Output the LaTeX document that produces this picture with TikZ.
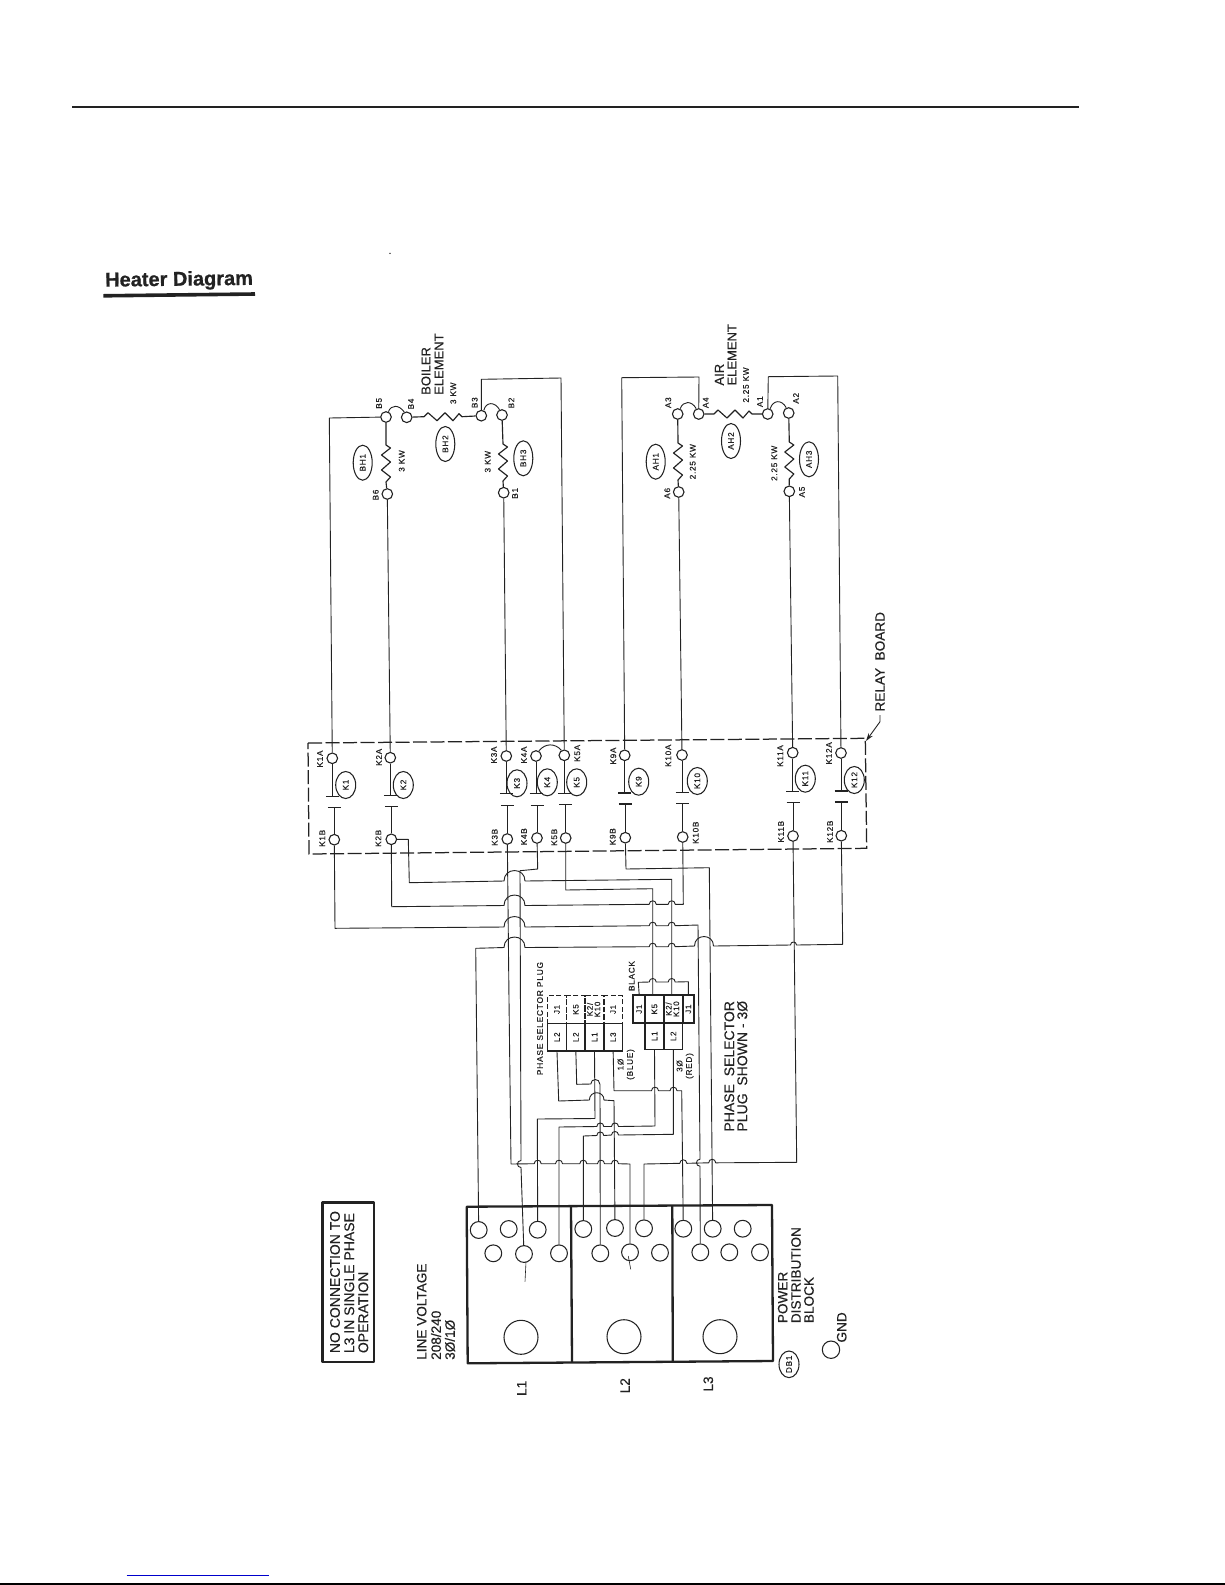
\documentclass[tikz,border=0pt]{standalone}
\usepackage{fontspec}
\usepackage{graphicx}
\setmainfont[FakeBold=0.25]{Liberation Sans}
\newfontfamily\spf[LetterSpace=9,FakeBold=0.35]{Liberation Sans}
\newfontfamily\titlef[BoldFeatures={FakeBold=0.7}]{Liberation Sans}
\usetikzlibrary{shapes.geometric,arrows.meta}
\definecolor{ink}{HTML}{222222}
\tikzset{
  wire/.style={draw=ink,line width=0.9pt,line join=round},
  zig/.style={draw=ink,line width=1.15pt,line join=round},
  term/.style={circle,draw=ink,line width=1.1pt,minimum size=10.6pt,inner sep=0pt},
  hole/.style={circle,draw=ink,line width=1.05pt,minimum size=16.8pt,inner sep=0pt},
  lug/.style={circle,draw=ink,line width=1.05pt,minimum size=34pt,inner sep=0pt},
  lab/.style={rotate=90,inner sep=0pt,text=ink,font=\spf\fontsize{8.2}{9.4}\selectfont},
  big/.style={rotate=90,anchor=west,inner sep=0pt,text=ink,font=\fontsize{13.6}{15}\selectfont},
  tagh/.style={ellipse,draw=ink,line width=1.05pt,rotate=90,minimum width=35pt,minimum height=19pt,inner sep=0pt,text=ink,font=\spf\fontsize{8.2}{9}\selectfont},
  tagk/.style={ellipse,draw=ink,line width=1.05pt,rotate=90,minimum width=27pt,minimum height=20pt,inner sep=0pt,text=ink,font=\spf\fontsize{8.2}{9}\selectfont},
  cell/.style={rectangle,draw=ink,inner sep=0pt,text=ink,font=\spf\fontsize{8}{8}\selectfont},
  cellL/.style={cell,line width=1.5pt},
  cellD/.style={cell,line width=1.1pt,dash pattern=on 5pt off 2.5pt},
  cellR/.style={cell,line width=1.7pt},
  bara/.style={draw=ink,line width=1.5pt},
  barb/.style={draw=ink,line width=1.05pt},
  frame/.style={draw=ink,line width=2.3pt,line join=round}
}
% row hop over a vertical wire, and vertical hop round a row
\newcommand\rh[3]{-- (#1-#3,#2) .. controls (#1-#3,#2-1.33*#3) and (#1+#3,#2-1.33*#3) .. (#1+#3,#2)}
\newcommand\vh[3]{-- (#1,#2-#3) .. controls (#1-1.33*#3,#2-#3) and (#1-1.33*#3,#2+#3) .. (#1,#2+#3)}
\newcommand\vzig[2]{-- (#1,#2) -- (#1+4.5,#2+3) -- (#1-4.5,#2+10) -- (#1+4.5,#2+17) -- (#1-4.5,#2+25) -- (#1+4.5,#2+32) -- (#1,#2+37)}
\newcommand\hzig[2]{-- (#1,#2) -- (#1+4,#2-4) -- (#1+13,#2+4) -- (#1+21,#2-4) -- (#1+29,#2+4) -- (#1+35,#2-3) -- (#1+38,#2)}
\newcommand\terminal[5]{\node[term] (#1) at (#2,#3) {}; \node[lab] (#1lab) at (#4,#5) {#1};}
% contact pair: name, upper bar y, lower bar y
\newcommand\contact[3]{%
  \coordinate (#1u) at (#1A |- 0,#2);
  \coordinate (#1l) at (#1B |- 0,#3);
  \draw[wire] (#1A) -- (#1u);
  \draw[wire] (#1B) -- (#1l);
  \draw[bara] ([xshift=-6.5pt]#1u) -- ([xshift=6.5pt]#1u);
  \draw[barb] ([xshift=-6.5pt]#1l) -- ([xshift=6.5pt]#1l);}
\begin{document}
\begin{tikzpicture}[x=1pt,y=-1pt]
\useasboundingbox[fill=white] (0,0) rectangle (1225,1585);

% page furniture
\coordinate (ruleL) at (72.3,106.7);
\coordinate (ruleR) at (1079,106.7);
\draw[ink,line width=2.1pt] (ruleL) -- (ruleR);
\node[rotate=0.7,anchor=west,inner sep=0pt,text=ink,font=\titlef\bfseries\fontsize{20}{22}\selectfont] (title) at (105,281.5) {Heater Diagram};
\coordinate (ulL) at (103.3,295.8);
\coordinate (ulR) at (255,294);
\draw[ink,line width=3.6pt] (ulL) -- (ulR);
\fill[ink] (390,253.3) circle (0.8pt);
\coordinate (blueL) at (126.7,1575);
\coordinate (blueR) at (269,1575);
\draw[blue!80!black,line width=1pt] (blueL) -- (blueR);
\coordinate (footL) at (0,1584);
\coordinate (footR) at (1225,1584);
\draw[black,line width=1.4pt] (footL) -- (footR);

% heater terminals
\terminal{B5}{386}{417}{379}{403.3}
\terminal{B4}{406.7}{417.3}{411}{404}
\terminal{B3}{481.3}{415.7}{474.7}{402.7}
\terminal{B2}{502}{415}{511.3}{403}
\terminal{B6}{387.3}{494}{375.7}{495}
\terminal{B1}{503.7}{492.7}{515}{493.3}
\terminal{A3}{677.7}{414}{668.3}{402.7}
\terminal{A4}{698.7}{414}{705.7}{402.7}
\terminal{A1}{767.7}{414}{760}{401.7}
\terminal{A2}{788.7}{413}{796}{398.3}
\terminal{A6}{678.7}{492}{667.3}{493.3}
\terminal{A5}{789.3}{491.3}{802}{492}

% heater resistors
\draw[zig] (B5) \vzig{386}{445} -- (B6);
\draw[zig] (B2) \vzig{503}{444} -- (B1);
\draw[zig] (B4) \hzig{424}{416.7} -- (B3);
\draw[zig] (A3) \vzig{678}{443} -- (A6);
\draw[zig] (A2) \vzig{789.3}{442} -- (A5);
\draw[zig] (A4) \hzig{714}{414} -- (A1);

% jumpers
\draw[wire] (B5.65) .. controls (391,404.5) and (399,404.5) .. (B4.115);
\draw[wire] (B3.65) .. controls (486,401.5) and (495,401.5) .. (B2.115);
\draw[wire] (A3.65) .. controls (683,400.5) and (692,400.5) .. (A4.115);
\draw[wire] (A1.65) .. controls (773,399.5) and (782,399.5) .. (A2.115);

% heater tags and text
\node[tagh] (BH1) at (362.7,462.7) {BH1};
\node[tagh] (BH2) at (445.3,444) {BH2};
\node[tagh] (BH3) at (523.3,458.3) {BH3};
\node[tagh] (AH1) at (655.7,461.7) {AH1};
\node[tagh] (AH2) at (731,441) {AH2};
\node[tagh] (AH3) at (809,459.3) {AH3};
\node[big,font=\fontsize{13}{15}\selectfont] (boilerA) at (426,395) {BOILER};
\node[big,font=\fontsize{13}{15}\selectfont] (boilerB) at (439,395) {ELEMENT};
\node[big,font=\fontsize{13}{15}\selectfont] (airA) at (719.3,385.7) {AIR};
\node[big,font=\fontsize{13}{15}\selectfont] (airB) at (732,385.7) {ELEMENT};
\node[lab] (kwa) at (453.3,393.3) {3 KW};
\node[lab] (kwb) at (401.7,461) {3 KW};
\node[lab] (kwc) at (487.7,461.7) {3 KW};
\node[lab] (kwd) at (746,385) {2.25 KW};
\node[lab] (kwe) at (692.7,461.7) {2.25 KW};
\node[lab] (kwf) at (774.3,463.3) {2.25 KW};

% relay board
\terminal{K1A}{332.3}{758.3}{320}{759}
\terminal{K2A}{390.3}{757.7}{379}{757.3}
\terminal{K3A}{506.3}{756}{494}{755}
\terminal{K4A}{536}{756}{524}{755}
\terminal{K5A}{564.3}{755.3}{577.3}{753.3}
\terminal{K9A}{624.7}{755.3}{613.3}{756}
\terminal{K10A}{682}{755}{668.3}{755.7}
\terminal{K11A}{792.7}{752.7}{780.3}{756}
\terminal{K12A}{841}{753}{829}{753.3}
\terminal{K1B}{334.3}{839.7}{322.3}{838.3}
\terminal{K2B}{391.3}{839.3}{378.3}{838.3}
\terminal{K3B}{507.3}{839}{494.7}{837.3}
\terminal{K4B}{537}{838}{524}{836.7}
\terminal{K5B}{565.7}{838}{554.3}{837.3}
\terminal{K9B}{625.3}{837.7}{612.7}{836.7}
\terminal{K10B}{682.7}{837}{695.7}{832.7}
\terminal{K11B}{793}{836}{781}{831.7}
\terminal{K12B}{841.3}{835.7}{830}{831.7}

\contact{K1}{796.7}{807.3}
\contact{K2}{795.7}{806.7}
\contact{K3}{793.7}{805.3}
\contact{K4}{793.7}{805.3}
\contact{K5}{793.3}{804.7}
\contact{K9}{793}{804}
\contact{K10}{792.7}{803.7}
\contact{K11}{791.7}{802.7}
\contact{K12}{791}{802}

\node[tagk] (K1) at (345.7,785) {K1};
\node[tagk] (K2) at (403.3,785) {K2};
\node[tagk] (K3) at (517,783.3) {K3};
\node[tagk] (K4) at (547.3,782.3) {K4};
\node[tagk] (K5) at (576.7,782.3) {K5};
\node[tagk] (K9) at (638.7,781.7) {K9};
\node[tagk] (K10) at (697.3,781) {K10};
\node[tagk] (K11) at (805.3,778.7) {K11};
\node[tagk] (K12) at (854.3,780) {K12};

\draw[wire] (K4A.60) .. controls (545,743) and (555,743) .. (K5A.120);

\coordinate (rbA) at (308,743);
\coordinate (rbB) at (865.3,738.3);
\coordinate (rbC) at (866.7,848.3);
\coordinate (rbD) at (309,854);
\draw[draw=ink,line width=1.25pt,dash pattern=on 14pt off 3.5pt] (rbA) -- (rbB) -- (rbC) -- (rbD) -- cycle;
\node[big] (relaytxt) at (880,711.7) {RELAY~~BOARD};
\coordinate (ldA) at (880,715);
\coordinate (ldB) at (880,721.7);
\coordinate (ldC) at (866,741);
\draw[ink,line width=0.9pt,-{Stealth[length=8pt,width=5pt]}] (ldA) -- (ldB) -- (ldC);

% top wires
\draw[wire] (K1A) -- (329.3,418) -- (B5);
\draw[wire] (K2A) -- (B6);
\draw[wire] (K3A) -- (B1);
\draw[wire] (K5A) -- (561,378) -- (481.3,379.3) -- (B3);
\draw[wire] (K9A) -- (621.7,377.7) -- (699,377) -- (A4);
\draw[wire] (K10A) -- (A6);
\draw[wire] (K11A) -- (A5);
\draw[wire] (K12A) -- (837.7,376) -- (768.3,376.7) -- (A1);

% distribution block
\coordinate (dbA) at (466.7,1206.7);
\coordinate (dbB) at (772,1205);
\coordinate (dbC) at (773,1361);
\coordinate (dbD) at (467.7,1363.3);
\draw[frame] (dbA) -- (dbB) -- (dbC) -- (dbD) -- cycle;
\coordinate (diva) at (571,1206);
\coordinate (divb) at (572,1362.5);
\coordinate (divc) at (672.3,1205.5);
\coordinate (divd) at (672.8,1361.5);
\draw[frame] (diva) -- (divb);
\draw[frame] (divc) -- (divd);

\node[hole] (Lat1) at (478.7,1230) {};
\node[hole] (Lat2) at (508.7,1229) {};
\node[hole] (Lat3) at (537.7,1229.7) {};
\node[hole] (Lab1) at (493.3,1253.3) {};
\node[hole] (Lab2) at (524,1254) {};
\node[hole] (Lab3) at (559,1253.3) {};
\node[lug] (Lag) at (521,1337.3) {};
\node[hole] (Lbt1) at (583.3,1229) {};
\node[hole] (Lbt2) at (615,1228) {};
\node[hole] (Lbt3) at (644,1228.3) {};
\node[hole] (Lbb1) at (600.3,1253.3) {};
\node[hole] (Lbb2) at (630,1252.3) {};
\node[hole] (Lbb3) at (660,1252.7) {};
\node[lug] (Lbg) at (624,1336.7) {};
\node[hole] (Lct1) at (683.3,1228.7) {};
\node[hole] (Lct2) at (712.7,1228.7) {};
\node[hole] (Lct3) at (742.7,1228.7) {};
\node[hole] (Lcb1) at (700.3,1252.3) {};
\node[hole] (Lcb2) at (729.3,1252.3) {};
\node[hole] (Lcb3) at (760,1252.3) {};
\node[lug] (Lcg) at (720,1336.7) {};

\coordinate (tkA) at (526,1261.7);
\coordinate (tkB) at (525,1281.7);
\draw[wire,line width=0.6pt] (tkA) -- (tkB);
\coordinate (tkC) at (628.3,1256);
\coordinate (tkD) at (630.7,1269.3);
\draw[wire,line width=0.6pt] (tkC) -- (tkD);

% phase selector plug (left)
\node[cellD,minimum width=19.4pt,minimum height=27.6pt] (sJa) at (557,1009.5) {\rotatebox{90}{J1}};
\node[cellD,minimum width=18.3pt,minimum height=27.6pt] (sKf) at (575.85,1009.5) {\rotatebox{90}{K5}};
\node[cellD,minimum width=19pt,minimum height=27.6pt] (sKt) at (594.5,1009.5) {\rotatebox{90}{\renewcommand\arraystretch{.8}\begin{tabular}{@{}c@{}}K2/\\K10\end{tabular}}};
\node[cellD,minimum width=18.3pt,minimum height=27.6pt] (sJb) at (613.15,1009.5) {\rotatebox{90}{J1}};
\node[cellL,minimum width=19.4pt,minimum height=27.7pt] (sLa) at (557,1037.2) {\rotatebox{90}{L2}};
\node[cellL,minimum width=18.3pt,minimum height=27.7pt] (sLb) at (575.85,1037.2) {\rotatebox{90}{L2}};
\node[cellL,minimum width=19pt,minimum height=27.7pt] (sLc) at (594.5,1037.2) {\rotatebox{90}{L1}};
\node[cellL,minimum width=18.3pt,minimum height=27.7pt] (sLd) at (613.15,1037.2) {\rotatebox{90}{L3}};
\node[lab,font=\spf\fontsize{8.4}{9}\selectfont] (plugtxt) at (540,1018.5) {PHASE SELECTOR PLUG};
\node[lab,align=center] (bluetxt) at (626,1064.5) {1Ø\\(BLUE)};

% phase selector plug (right)
\node[cellR,minimum width=11.7pt,minimum height=28.3pt] (rJa) at (639.15,1009.15) {\rotatebox{90}{J1}};
\node[cellR,minimum width=19pt,minimum height=28.3pt] (rKf) at (654.5,1009.15) {\rotatebox{90}{K5}};
\node[cellR,minimum width=18.7pt,minimum height=28.3pt] (rKt) at (673.35,1009.15) {\rotatebox{90}{\renewcommand\arraystretch{.8}\begin{tabular}{@{}c@{}}K2/\\K10\end{tabular}}};
\node[cellR,minimum width=11.3pt,minimum height=28.3pt] (rJb) at (688.35,1009.15) {\rotatebox{90}{J1}};
\node[cellL,minimum width=19pt,minimum height=26pt] (rLa) at (654.5,1036.3) {\rotatebox{90}{L1}};
\node[cellL,minimum width=18.7pt,minimum height=26pt] (rLb) at (673.35,1036.3) {\rotatebox{90}{L2}};
\node[lab] (blacktxt) at (631.7,976) {BLACK};
\node[lab,align=center] (redtxt) at (685,1066) {3Ø\\(RED)};
\node[big,font=\fontsize{14}{15}\selectfont] (psa) at (729.3,1131.7) {PHASE~~SELECTOR};
\node[big,font=\fontsize{14}{15}\selectfont] (psb) at (742.3,1131.7) {PLUG~~SHOWN - 3Ø};

% lower wires
\draw[wire] (K2B) -- (408.3,839.3) -- (409.3,882.7) \rh{514.5}{881}{10.5} -- (671.7,879.3) -- (rKt.north -| 671.7,0);
\draw[wire] (K5B) -- (565.7,890) -- (652.7,888.7) -- (rKf.north -| 652.7,0);
\draw[wire] (K2B) -- (391.7,906.7) \rh{514.5}{905.5}{10.5} \rh{652.7}{904.3}{3.5} \rh{671.7}{904.3}{3.5} -- (683.3,904.3) -- (K10B);
\draw[wire] (K1B) -- (335,928.3) \rh{514.5}{927}{10.5} \rh{652.7}{925.7}{3.5} \rh{671.7}{925.7}{3.5} -- (698,925) -- (700,1158) \vh{700}{1162.7}{3.5} -- (Lcb1);
\draw[wire] (Lat1) -- (475.7,948.3) \rh{514.5}{947.5}{10.5} \rh{652.7}{946.7}{3.5} \rh{671.7}{946.7}{3.5} \rh{704}{946}{9.5} \rh{793.5}{945}{3} -- (842.7,944.3) -- (K12B);
\draw[wire] (K3B) -- (509,1000) -- (511,1164) \rh{537.7}{1163.7}{3.5} \rh{559}{1163.7}{3.5} \rh{583.3}{1163.7}{3.5} \rh{601}{1163.7}{3.5} \rh{615}{1163.7}{3.5} -- (630,1164) -- (Lbb2);
\draw[wire] (K4B) -- (537.7,869) -- (520,870.7) -- (521,1160) \vh{521}{1164}{3.5} -- (Lab2);
\draw[wire] (K9B) -- (626,869) -- (709.3,867.7) -- (Lct2);
\draw[wire] (Lbt3) -- (644,1164) \rh{683.3}{1163.3}{3.5} \rh{712.2}{1162.8}{3.5} -- (796.7,1162.3) -- (K11B);
\draw[wire] (rJa.north) -- (638.3,982.3) \rh{652.7}{982}{3.5} \rh{671.7}{982}{3.5} -- (688.3,981.7) -- (rJb.north);
\draw[wire] (sLa.south) -- (558.7,1101) \rh{596.7}{1100}{7.3} -- (614,1100.7) -- (Lbt2);
\draw[wire] (sLb.south) -- (576.7,1084.3) \rh{595.3}{1084}{4.5} -- (600,1084) -- (Lbb1);
\draw[wire] (sLc.south) -- (595,1118.5) -- (537.3,1119) -- (Lat3);
\draw[wire] (sLd.south) -- (614,1090.7) \rh{655}{1090.7}{3.5} \rh{673.5}{1090.7}{3.5} -- (681.7,1090.7) -- (Lct1);
\draw[wire] (Lab3) -- (559,1127) \rh{600.3}{1126.5}{3.5} \rh{615}{1126.5}{3.5} -- (655,1126) -- (rLa.south);
\draw[wire] (Lbt1) -- (583.3,1136) \rh{600.3}{1135.5}{3.5} \rh{615}{1135}{3.5} -- (673.3,1134.3) -- (rLb.south);

% notes and block labels
\coordinate (nbA) at (322.3,1202.3);
\coordinate (nbB) at (374,1202.3);
\coordinate (nbC) at (374,1362);
\coordinate (nbD) at (322.3,1362);
\draw[frame,line width=2.6pt] (nbA) -- (nbB) -- (nbC) -- (nbD) -- cycle;
\node[big,font=\fontsize{14}{15}\selectfont] (noteA) at (335,1353.3) {NO CONNECTION TO};
\node[big,font=\fontsize{14}{15}\selectfont] (noteB) at (349.3,1353.3) {L3 IN SINGLE PHASE};
\node[big,font=\fontsize{14}{15}\selectfont] (noteC) at (363.3,1353.3) {OPERATION};
\node[big] (lvA) at (421.7,1360) {LINE VOLTAGE};
\node[big] (lvB) at (436,1360) {208/240};
\node[big] (lvC) at (450,1360) {3Ø/1Ø};
\node[big,anchor=center] (nL1) at (521.7,1388.3) {L1};
\node[big,anchor=center] (nL2) at (625,1385.7) {L2};
\node[big,anchor=center] (nL3) at (708.3,1384) {L3};
\node[big] (pdA) at (782.7,1323.3) {POWER};
\node[big] (pdB) at (796,1323.3) {DISTRIBUTION};
\node[big] (pdC) at (809,1323.3) {BLOCK};
\node[tagk,minimum width=26.6pt] (DB1) at (789,1364.3) {DB1};
\node[hole,minimum size=17.4pt] (gndc) at (831,1349.7) {};
\node[big] (gndt) at (841.7,1342.7) {GND};
\end{tikzpicture}
\end{document}
